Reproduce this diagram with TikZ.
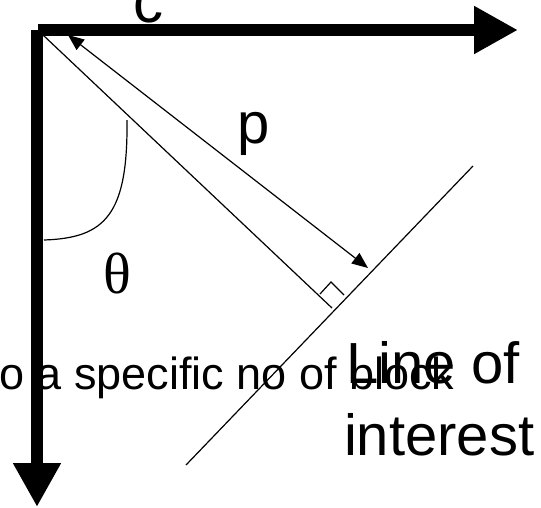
\documentclass[tikz,border=0pt]{standalone}
\usepackage{fontspec}
\setmainfont{Liberation Sans}
\newfontfamily\thetafont{Liberation Serif}
\usetikzlibrary{arrows.meta}
\begin{document}
\begin{tikzpicture}[x=1pt,y=-1pt,
  axis/.style={line width=12pt,-{Triangle[length=44pt,width=45pt]}},
  thin/.style={line width=1.2pt},
  lbl/.style={inner sep=0pt,outer sep=0pt}]
\useasboundingbox (0,0) rectangle (541,507);
\clip (0,0) rectangle (541,507);
% coordinates
\coordinate (Ov) at (37,30);
\coordinate (Oh) at (38,30);
\coordinate (Xend) at (518,30);
\coordinate (Yend) at (37,507);
\coordinate (L0) at (43,35);
\coordinate (F) at (332,308);
\coordinate (Pa) at (68,35);
\coordinate (Pb) at (368,268);
\coordinate (Lb) at (186,465);
\coordinate (Lt) at (473,166);
\coordinate (Sq1) at (320,294);
\coordinate (Sq2) at (331,282);
\coordinate (Sq3) at (344,295);
\coordinate (Aa) at (127,120);
\coordinate (Ab) at (44,240);
% labels (c lies partly behind the axis)
\node[lbl,anchor=base] (c) at (148,22) {\fontsize{60}{70}\selectfont c};
% axes
\draw[axis] (Ov) -- (Yend);
\draw[axis] (Oh) -- (Xend);
% lines
\draw[thin] (L0) -- (F);
\draw[thin] (Lb) -- (Lt);
\draw[thin,{Triangle[length=16pt,width=13pt]}-{Triangle[length=16pt,width=13pt]}] (Pa) -- (Pb);
\draw[thin] (Sq1) -- (Sq2) -- (Sq3);
\draw[thin] (Aa) .. controls (128,215) and (105,238) .. (Ab);
% labels
\node[lbl,anchor=base] (p) at (254,143) {\fontsize{58}{70}\selectfont p};
\node[lbl,anchor=base] (theta) at (117.5,293) {\thetafont\fontsize{58}{70}\selectfont θ};
\node[lbl,anchor=base west] (blk) at (-1,389) {\fontsize{45}{54}\selectfont o a specific no of block};
\node[lbl,anchor=base west] (li1) at (346,383) {\fontsize{58}{70}\selectfont Line of};
\node[lbl,anchor=base west] (li2) at (344,455) {\fontsize{58}{70}\selectfont interest};
\end{tikzpicture}
\end{document}
